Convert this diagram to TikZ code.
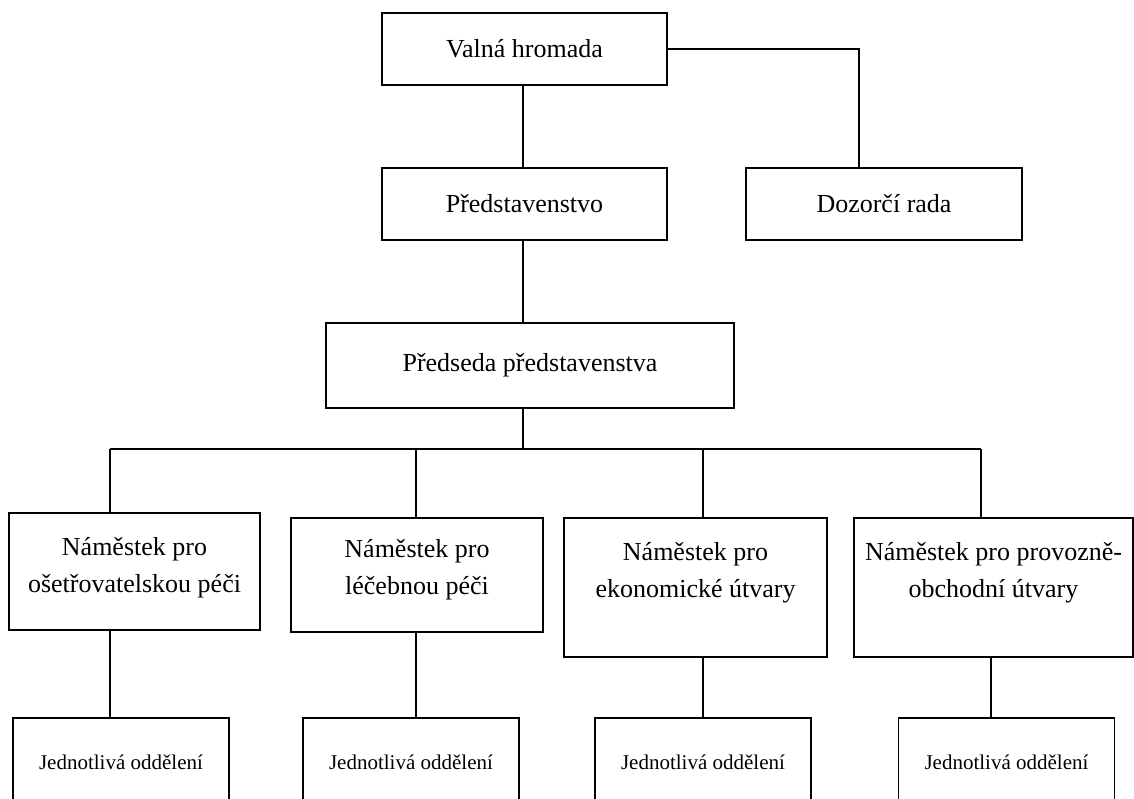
\documentclass[tikz,border=0pt]{standalone}
\usepackage{fontspec}
\setmainfont{Liberation Serif}
\begin{document}
\begin{tikzpicture}[x=1pt,y=-1pt,
  box/.style={draw, line width=1.2pt, rectangle, inner sep=0pt,
    font=\fontsize{26}{37}\selectfont},
  nbox/.style={box},
  jbox/.style={draw, line width=1.2pt, rectangle, inner sep=0pt,
    minimum width=216pt, minimum height=88pt, font=\fontsize{21}{25}\selectfont},
  txt/.style={align=center, inner sep=0pt, font=\fontsize{26}{37}\selectfont},
  link/.style={line width=1.2pt}]
\useasboundingbox (0,0) rectangle (1134,798);
\clip (0,0) rectangle (1134,798);
\fill[white] (0,0) rectangle (1134,798);

% top levels
\node[box, minimum width=285pt, minimum height=72pt] (vh) at (524.5,49) {Valná hromada};
\node[box, minimum width=285pt, minimum height=72pt] (p) at (524.5,204) {Představenstvo};
\node[box, minimum width=276pt, minimum height=72pt] (dr) at (884,204) {Dozorčí rada};
\node[box, minimum width=408pt, minimum height=85pt] (pp) at (530,365.5) {Předseda představenstva};

% deputies
\node[nbox, minimum width=251pt, minimum height=117pt] (n1) at (134.5,571.5) {};
\node[txt] (n1t) at ([yshift=4pt]n1.center) {Náměstek pro\\ošetřovatelskou péči};
\node[nbox, minimum width=252pt, minimum height=114pt] (n2) at (417,575) {};
\node[txt] (n2t) at ([yshift=5pt]n2.center) {Náměstek pro\\léčebnou péči};
\node[nbox, minimum width=263pt, minimum height=139pt] (n3) at (695.5,587.5) {};
\node[txt] (n3t) at ([yshift=15pt]n3.center) {Náměstek pro\\ekonomické útvary};
\node[nbox, minimum width=279pt, minimum height=139pt] (n4) at (993.5,587.5) {};
\node[txt] (n4t) at ([yshift=15pt]n4.center) {Náměstek pro provozně-\\obchodní útvary};

% departments
\node[jbox] (j1) at (121,762) {Jednotlivá oddělení};
\node[jbox] (j2) at (411,762) {Jednotlivá oddělení};
\node[jbox] (j3) at (703,762) {Jednotlivá oddělení};
\node[jbox] (j4) at (1006.5,762) {Jednotlivá oddělení};

% connector positions
\coordinate (t0) at (523,449);
\coordinate (c1) at (110,449);
\coordinate (c2) at (416,449);
\coordinate (c3) at (703,449);
\coordinate (c4) at (981,449);
\coordinate (d4) at (991,449);
\coordinate (drin) at (859,168);

% connectors
\draw[link] (vh.south -| t0) -- (p.north -| t0);
\draw[link] (vh.east) -| (drin);
\draw[link] (p.south -| t0) -- (pp.north -| t0);
\draw[link] (pp.south -| t0) -- (t0);
\draw[link] (c1) -- (c4);
\draw[link] (c1) -- (c1 |- n1.north);
\draw[link] (c2) -- (c2 |- n2.north);
\draw[link] (c3) -- (c3 |- n3.north);
\draw[link] (c4) -- (c4 |- n4.north);
\draw[link] (c1 |- n1.south) -- (c1 |- j1.north);
\draw[link] (c2 |- n2.south) -- (c2 |- j2.north);
\draw[link] (c3 |- n3.south) -- (c3 |- j3.north);
\draw[link] (d4 |- n4.south) -- (d4 |- j4.north);
\end{tikzpicture}
\end{document}
